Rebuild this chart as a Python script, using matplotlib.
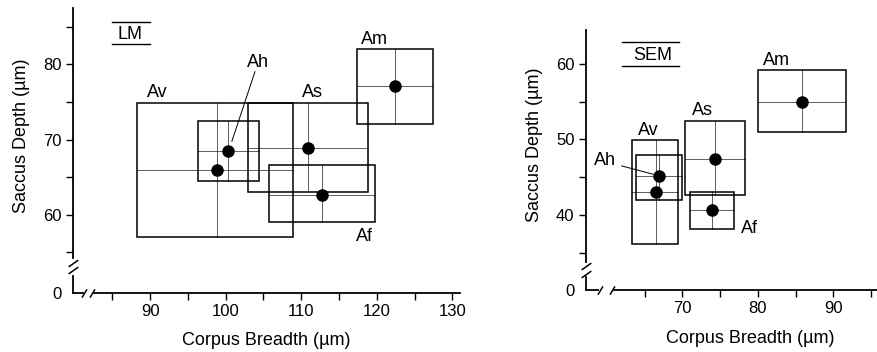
import numpy as np
import matplotlib
matplotlib.use('Agg')
import matplotlib.pyplot as plt
from matplotlib.patches import Rectangle

plt.rcParams['font.family'] = ['Liberation Sans', 'DejaVu Sans']

# LM panel (light microscopy)
lm_names = ["Av", "Ah", "As", "Af", "Am"]
lm_x = [98.9, 100.35, 110.9, 112.7, 122.4]
lm_y = [66.0, 68.45, 68.9, 62.6, 77.05]
lm_xlo = [88.3, 96.4, 103.0, 105.8, 117.4]
lm_xhi = [108.9, 104.4, 118.85, 119.7, 127.4]
lm_ylo = [57.1, 64.45, 63.04, 59.1, 72.0]
lm_yhi = [74.85, 72.4, 74.85, 66.56, 82.07]

# SEM panel
sem_names = ["Av", "Ah", "As", "Af", "Am"]
sem_x = [66.5, 66.9, 74.3, 73.9, 85.8]
sem_y = [43.0, 45.1, 47.4, 40.6, 55.0]
sem_xlo = [63.3, 63.9, 70.4, 71.0, 80.0]
sem_xhi = [69.4, 69.9, 78.3, 76.9, 91.7]
sem_ylo = [36.1, 42.0, 42.6, 38.1, 50.95]
sem_yhi = [49.9, 48.0, 52.4, 43.1, 59.2]

# label placement (layout only)
lm_lab = {"Av": (90.97, 76.2), "Ah": (104.3, 80.26), "As": (111.45, 76.3),
          "Af": (118.4, 57.1), "Am": (119.7, 83.35)}
sem_lab = {"Av": (65.43, 51.2), "Ah": (59.7, 47.2), "As": (72.6, 53.8),
           "Af": (78.9, 38.2), "Am": (82.4, 60.5)}

LW = 1.3
FS = 13


def draw_boxes(ax, names, x, y, xlo, xhi, ylo, yhi, labs):
    for i, n in enumerate(names):
        ax.add_patch(Rectangle((xlo[i], ylo[i]), xhi[i] - xlo[i], yhi[i] - ylo[i],
                               fill=False, lw=1.1, ec='black', zorder=2))
        ax.plot([x[i], x[i]], [ylo[i], yhi[i]], color='#444444', lw=0.6, zorder=1)
        ax.plot([xlo[i], xhi[i]], [y[i], y[i]], color='#444444', lw=0.6, zorder=1)
        lx, ly = labs[n]
        ax.text(lx, ly, n, fontsize=FS, ha='center', va='center')
    ax.plot(x, y, 'o', color='black', ms=8, zorder=3)


def broken_axes(ax, xlim, ylim, ybrk, xbrk):
    # ybrk = (stub top, slash1, slash2, upper start); xbrk same along x
    ax.set_xlim(*xlim)
    ax.set_ylim(*ylim)
    for s in ['top', 'right']:
        ax.spines[s].set_visible(False)
    ax.spines['left'].set_bounds(ybrk[3], ylim[1])
    ax.spines['bottom'].set_bounds(xbrk[3], xlim[1])
    ax.spines['left'].set_linewidth(LW)
    ax.spines['bottom'].set_linewidth(LW)
    ax.plot([xlim[0], xlim[0]], [ylim[0], ybrk[0]], color='black', lw=LW, clip_on=False)
    ax.plot([xlim[0], xbrk[0]], [ylim[0], ylim[0]], color='black', lw=LW, clip_on=False)
    ax.plot([xlim[0], xlim[0]], [ybrk[1], ybrk[2]], ls='none', marker=[(-1, -0.7), (1, 0.7)],
            ms=7, mec='black', mew=1.1, clip_on=False)
    ax.plot([xbrk[1], xbrk[2]], [ylim[0], ylim[0]], ls='none', marker=[(-0.6, -1), (0.6, 1)],
            ms=6, mec='black', mew=1.1, clip_on=False)


fig = plt.figure(figsize=(8.78, 3.52), dpi=100)

# ---- LM ----
ax1 = fig.add_axes([0.0831, 0.1676, 0.4408, 0.810])
broken_axes(ax1, (79.8, 131), (49.6, 87.5), (51.9, 52.6, 53.6, 54.3), (81.1, 81.2, 82.3, 82.6))
draw_boxes(ax1, lm_names, lm_x, lm_y, lm_xlo, lm_xhi, lm_ylo, lm_yhi, lm_lab)
ax1.annotate("", xy=(100.7, 69.4), xytext=(104.0, 79.4),
             arrowprops=dict(arrowstyle='-', lw=0.7, color='black'))
ax1.set_xticks([90, 100, 110, 120, 130])
ax1.set_xticks([85, 95, 105, 115, 125], minor=True)
ax1.set_yticks([49.6, 60, 70, 80], ['0', '60', '70', '80'])
ax1.set_yticks([55, 65, 75, 85], minor=True)
ax1.text(87.3, 84.0, "LM", fontsize=FS, ha='center', va='center')
ax1.plot([84.93, 90.0], [85.64, 85.64], color='black', lw=1.0)
ax1.plot([84.93, 90.0], [82.64, 82.64], color='black', lw=1.0)
ax1.set_xlabel("Corpus Breadth (µm)", fontsize=FS)
ax1.set_ylabel("Saccus Depth (µm)", fontsize=FS)
ax1.xaxis.set_label_coords(0.499, -0.137)
ax1.yaxis.set_label_coords(-0.11, 0.551)

# ---- SEM ----
ax2 = fig.add_axes([0.667, 0.176, 0.333, 0.739])
broken_axes(ax2, (57.2, 95.9), (30.07, 64.5), (31.8, 32.2, 33.2, 33.8), (58.9, 59.1, 60.7, 60.9))
draw_boxes(ax2, sem_names, sem_x, sem_y, sem_xlo, sem_xhi, sem_ylo, sem_yhi, sem_lab)
ax2.annotate("", xy=(66.5, 45.3), xytext=(61.6, 46.6),
             arrowprops=dict(arrowstyle='-', lw=0.7, color='black'))
ax2.set_xticks([70, 80, 90])
ax2.set_xticks([65, 75, 85, 95], minor=True)
ax2.set_yticks([30.07, 40, 50, 60], ['0', '40', '50', '60'])
ax2.set_yticks([35, 45, 55], minor=True)
ax2.text(66.1, 61.15, "SEM", fontsize=FS, ha='center', va='center')
ax2.plot([61.96, 69.56], [62.87, 62.87], color='black', lw=1.0)
ax2.plot([61.96, 69.56], [59.69, 59.69], color='black', lw=1.0)
ax2.set_xlabel("Corpus Breadth (µm)", fontsize=FS)
ax2.set_ylabel("Saccus Depth (µm)", fontsize=FS)
ax2.xaxis.set_label_coords(0.562, -0.154)
ax2.yaxis.set_label_coords(-0.145, 0.56)

for ax in (ax1, ax2):
    ax.tick_params(which='both', direction='out', length=5, width=1.0, labelsize=12, pad=3)
    ax.yaxis.get_major_ticks()[0].tick1line.set_visible(False)

fig.savefig("out.png", dpi=100)
